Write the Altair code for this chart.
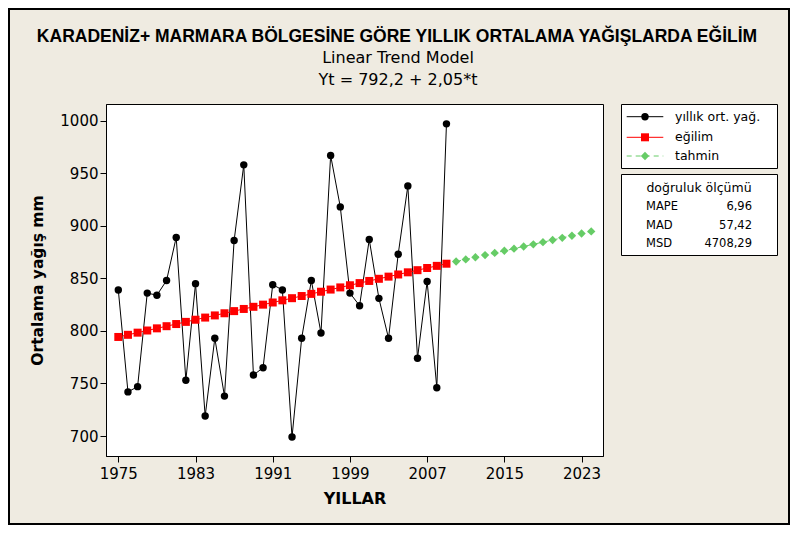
import altair as alt
import pandas as pd

# ---- data ----
yillar = list(range(1975, 2010))
yagis = [839, 742, 747, 836, 834, 848, 889, 753, 845, 719,
         793, 738, 886, 958, 758, 765, 844, 839, 699, 793,
         848, 798, 967, 918, 836, 824, 887, 831, 793, 873,
         938, 774, 847, 746, 997]
egilim = [794.25, 796.30, 798.35, 800.40, 802.45, 804.50, 806.55, 808.60, 810.65, 812.70,
          814.75, 816.80, 818.85, 820.90, 822.95, 825.00, 827.05, 829.10, 831.15, 833.20,
          835.25, 837.30, 839.35, 841.40, 843.45, 845.50, 847.55, 849.60, 851.65, 853.70,
          855.75, 857.80, 859.85, 861.90, 863.95]
tahmin_yillar = list(range(2010, 2025))
tahmin = [866.00, 868.05, 870.10, 872.15, 874.20, 876.25, 878.30, 880.35, 882.40, 884.45,
          886.50, 888.55, 890.60, 892.65, 894.70]

x_ticks = [1975, 1983, 1991, 1999, 2007, 2015, 2023]
y_ticks = [700, 750, 800, 850, 900, 950, 1000]

legend_labels = ["yıllık ort. yağ.", "eğilim", "tahmin"]
acc_title = "doğruluk ölçümü"
acc_names = ["MAPE", "MAD", "MSD"]
acc_values = ["6,96", "57,42", "4708,29"]

title_main = "KARADENİZ+ MARMARA BÖLGESİNE GÖRE YILLIK ORTALAMA YAĞIŞLARDA EĞİLİM"
title_sub1 = "Linear Trend Model"
title_sub2 = "Yt = 792,2 + 2,05*t"

df_obs = pd.DataFrame({"yil": yillar, "deger": yagis})
df_trend = pd.DataFrame({"yil": yillar, "deger": egilim})
df_fc = pd.DataFrame({"yil": tahmin_yillar, "deger": tahmin})

W, H = 497, 352
BG = "#efebe1"
RED = "#ff0000"
GREEN = "#66cc66"
FONT = "DejaVu Sans"

xs = alt.Scale(domain=[1973.725, 2025.22], nice=False, zero=False)
ys = alt.Scale(domain=[681, 1015.9], nice=False, zero=False)

xenc = alt.X("yil:Q", scale=xs,
             axis=alt.Axis(values=x_ticks, format="d", title="YILLAR", grid=False,
                           labelFlush=False, tickSize=6, labelPadding=4, titlePadding=9,
                           labelFontSize=15, titleFontSize=16, titleFontWeight="bold"))
yenc = alt.Y("deger:Q", scale=ys,
             axis=alt.Axis(values=y_ticks, format="d", title="Ortalama yağış mm", grid=False,
                           tickSize=6, labelPadding=2, titlePadding=14,
                           labelFontSize=15, titleFontSize=15.5, titleFontWeight="bold"))

obs_line = alt.Chart(df_obs).mark_line(color="black", strokeWidth=1).encode(x=xenc, y=yenc)
obs_pts = alt.Chart(df_obs).mark_point(filled=True, color="black", size=55, opacity=1,
                                       shape="circle").encode(x="yil:Q", y="deger:Q")
tr_line = alt.Chart(df_trend).mark_line(color=RED, strokeWidth=1).encode(x="yil:Q", y="deger:Q")
tr_pts = alt.Chart(df_trend).mark_point(filled=True, color=RED, size=64, opacity=1,
                                        shape="square").encode(x="yil:Q", y="deger:Q")
fc_line = alt.Chart(df_fc).mark_line(color=GREEN, strokeWidth=1, strokeDash=[5, 4]).encode(x="yil:Q", y="deger:Q")
fc_pts = alt.Chart(df_fc).mark_point(filled=True, color=GREEN, size=70, opacity=1,
                                     shape="diamond").encode(x="yil:Q", y="deger:Q")

one = pd.DataFrame({"k": [0]})


def deco_text(txt, x, y, size, weight="normal", align="center", font=FONT):
    return alt.Chart(one).mark_text(text=txt, fontSize=size, fontWeight=weight, align=align,
                                    baseline="middle", font=font, color="black").encode(
        x=alt.value(x), y=alt.value(y))


def deco_rect(x1, x2, y1, y2, sw=1, fill=None):
    kw = dict(stroke="black", strokeWidth=sw)
    if fill is None:
        kw["fillOpacity"] = 0
        kw["fill"] = "white"
    else:
        kw["fill"] = fill
    return alt.Chart(one).mark_rect(**kw).encode(
        x=alt.value(x1), x2=alt.value(x2), y=alt.value(y1), y2=alt.value(y2))


def deco_rule(x1, x2, y, color, dash=None):
    kw = dict(color=color, strokeWidth=1)
    if dash:
        kw["strokeDash"] = dash
    return alt.Chart(one).mark_rule(**kw).encode(x=alt.value(x1), x2=alt.value(x2), y=alt.value(y))


def deco_pt(x, y, color, shape, size):
    return alt.Chart(one).mark_point(filled=True, color=color, shape=shape, size=size,
                                     opacity=1).encode(x=alt.value(x), y=alt.value(y))


layers = [
    deco_rect(-97, 683, -95, 420, sw=2),
    obs_line, tr_line, fc_line, obs_pts, tr_pts, fc_pts,
    deco_text(title_main, 291, -67, 17.5, "bold", font="Liberation Sans"),
    deco_text(title_sub1, 292, -46, 16),
    deco_text(title_sub2, 292, -24, 16),
    # legend box 1
    deco_rect(515.5, 671.5, 0.5, 64.5, fill="white"),
    deco_rule(520.7, 557.3, 12.7, "black"),
    deco_pt(539, 12.7, "black", "circle", 55),
    deco_text(legend_labels[0], 569, 12.7, 12.5, align="left"),
    deco_rule(520.7, 557.3, 33.3, RED),
    deco_pt(539, 33.3, RED, "square", 64),
    deco_text(legend_labels[1], 569, 33.3, 12.5, align="left"),
    deco_rule(520.7, 557.3, 52, GREEN, dash=[5, 4]),
    deco_pt(539, 52, GREEN, "diamond", 70),
    deco_text(legend_labels[2], 569, 52, 12.5, align="left"),
    # accuracy box
    deco_rect(515.5, 671.5, 70.5, 151.5, fill="white"),
    deco_text(acc_title, 593, 84.3, 12.5),
    deco_text(acc_names[0], 540, 103.3, 11.5, align="left"),
    deco_text(acc_values[0], 646, 103.3, 11.5, align="right"),
    deco_text(acc_names[1], 540, 122, 11.5, align="left"),
    deco_text(acc_values[1], 646, 122, 11.5, align="right"),
    deco_text(acc_names[2], 540, 140.3, 11.5, align="left"),
    deco_text(acc_values[2], 646, 140.3, 11.5, align="right"),
]

chart = alt.layer(*layers).properties(
    width=W, height=H,
    autosize=alt.AutoSizeParams(type="none"),
    padding={"left": 98, "top": 96, "right": 187, "bottom": 69},
    background=BG,
).configure_view(
    fill="white", stroke="black", strokeWidth=1
).configure_axis(
    labelFont=FONT, titleFont=FONT, labelColor="black", titleColor="black",
    domainColor="black", tickColor="black", domainWidth=1, tickWidth=1,
)

chart.save("out.html", embed_options={"renderer": "svg", "actions": False})
